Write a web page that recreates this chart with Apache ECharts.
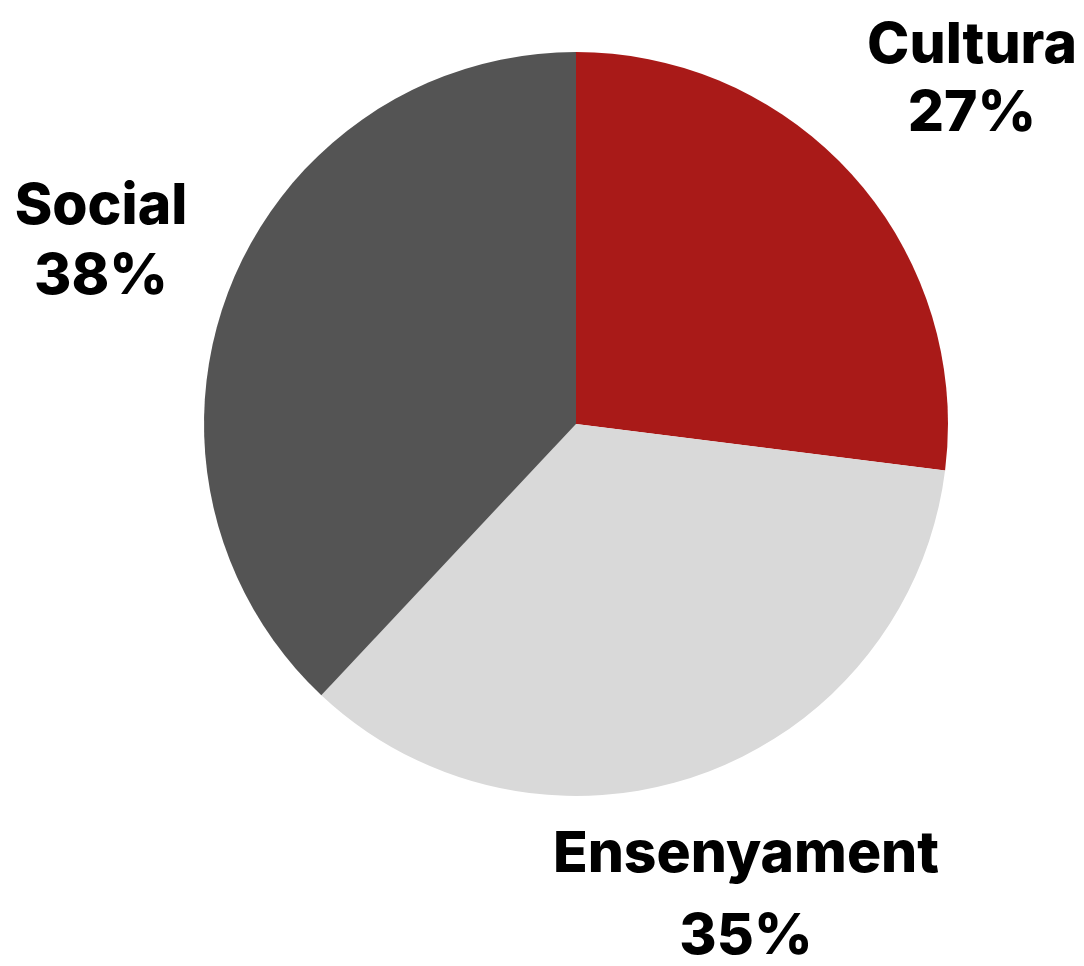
<!DOCTYPE html>
<html><head><meta charset="utf-8">
<script src="https://cdn.jsdelivr.net/npm/echarts@6/dist/echarts.min.js"></script>
<style>html,body{margin:0;padding:0;background:#fff}#c{width:1084px;height:966px}</style>
</head><body><div id="c"></div>
<script>
const categories = ['Cultura', 'Ensenyament', 'Social'];
const values = [27, 35, 38];
const colors = ['#A91A18', '#D9D9D9', '#545454'];
const labelPos = [[972, 80], [746, 896], [101, 242]];
const lineHeights = [68, 82, 70];

const chart = echarts.init(document.getElementById('c'));
chart.setOption({
  animation: false,
  series: [{
    type: 'pie',
    center: [576, 424],
    radius: 372,
    startAngle: 90,
    clockwise: true,
    data: categories.map((n, i) => ({
      name: n, value: values[i],
      itemStyle: { color: colors[i] },
      label: { lineHeight: lineHeights[i] }
    })),
    label: {
      show: true,
      position: 'outside',
      formatter: p => p.name + '\n' + p.value + '%',
      fontFamily: 'Inter',
      fontWeight: 800,
      fontSize: 57,
      color: '#000',
      align: 'center',
      overflow: 'none',
      width: 500
    },
    labelLine: { show: false },
    labelLayout: p => ({
      x: labelPos[p.dataIndex][0],
      y: labelPos[p.dataIndex][1],
      align: 'center',
      verticalAlign: 'middle'
    })
  }]
});
</script></body></html>
